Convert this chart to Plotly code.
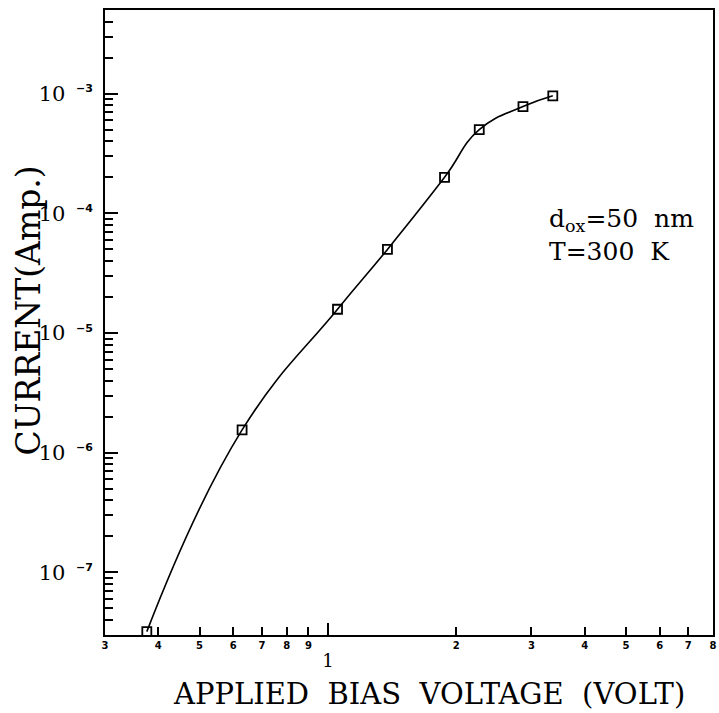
import plotly.graph_objects as go
import math

# ---- data ----
voltage = [0.376, 0.629, 1.053, 1.379, 1.877, 2.264, 2.867, 3.368]
current = [3.2e-8, 1.55e-6, 1.58e-5, 5.0e-5, 2.0e-4, 5.0e-4, 7.8e-4, 9.6e-4]

x_tick_vals = [0.3, 0.4, 0.5, 0.6, 0.7, 0.8, 0.9, 2, 3, 4, 5, 6, 7, 8]
x_tick_text = ["3", "4", "5", "6", "7", "8", "9", "2", "3", "4", "5", "6", "7", "8"]
y_major_exps = [-7, -6, -5, -4, -3]
y_minor_vals = [m * 10.0 ** e for e in range(-8, -2) for m in range(2, 10)
                if 3e-8 <= m * 10.0 ** e <= 5e-3]

x_range = [0.3, 8]
y_range = [3e-8, 5e-3]

SERIF = "DejaVu Serif"

fig = go.Figure()
fig.add_trace(go.Scatter(
    x=voltage, y=current, mode="lines+markers",
    line=dict(color="black", width=1.6, shape="spline", smoothing=1.3),
    marker=dict(symbol="square-open", size=9, color="black", line=dict(width=1.8)),
    showlegend=False, hoverinfo="skip",
))
# invisible trace to attach overlay axis for the long tick at 1
fig.add_trace(go.Scatter(x=[1], y=[1e-6], xaxis="x2", yaxis="y",
                         mode="markers", marker=dict(opacity=0), showlegend=False,
                         hoverinfo="skip"))

y_tick_vals = [10.0 ** e for e in y_major_exps]
y_tick_text = ["10\u2002<sup><span style='font-family:DejaVu Sans;font-size:11px;font-weight:bold'>\u2212%d</span></sup>" % (-e)
               for e in y_major_exps]

fig.update_layout(
    width=719, height=713,
    margin=dict(l=105, r=2, t=10, b=78),
    paper_bgcolor="white", plot_bgcolor="white",
    xaxis=dict(
        type="log", range=[math.log10(x_range[0]), math.log10(x_range[1])],
        tickmode="array", tickvals=x_tick_vals, ticktext=x_tick_text,
        ticks="inside", ticklen=8, tickwidth=1.6, tickcolor="black",
        tickfont=dict(family="DejaVu Sans", size=10, color="black", weight="bold"),
        ticklabelstandoff=0,
        showline=True, linecolor="black", linewidth=2, mirror=True,
        showgrid=False, zeroline=False,
    ),
    xaxis2=dict(
        type="log", range=[math.log10(x_range[0]), math.log10(x_range[1])],
        overlaying="x", side="bottom", anchor="y",
        tickmode="array", tickvals=[1], ticktext=["1"],
        ticks="inside", ticklen=12, tickwidth=1.8, tickcolor="black",
        tickfont=dict(family=SERIF, size=18, color="black"),
        ticklabelstandoff=13,
        showline=False, showgrid=False, zeroline=False,
    ),
    yaxis=dict(
        type="log", range=[math.log10(y_range[0]), math.log10(y_range[1])],
        tickmode="array", tickvals=y_tick_vals, ticktext=y_tick_text,
        ticks="inside", ticklen=13, tickwidth=1.8, tickcolor="black",
        tickfont=dict(family=SERIF, size=21, color="black"),
        ticklabelstandoff=6,
        minor=dict(tickmode="array", tickvals=y_minor_vals, ticks="inside",
                   ticklen=8, tickwidth=1.5, tickcolor="black", showgrid=False),
        showline=True, linecolor="black", linewidth=2, mirror=True,
        showgrid=False, zeroline=False,
    ),
)

fig.add_annotation(
    text="APPLIED\u00a0\u00a0BIAS\u00a0\u00a0VOLTAGE\u00a0\u00a0(VOLT)",
    xref="paper", yref="paper", x=(431 - 105) / 612, y=(635 - 694) / 625,
    xanchor="center", yanchor="middle", showarrow=False,
    font=dict(family=SERIF, size=29, color="black"),
)
fig.add_annotation(
    text="CURRENT(Amp.)", textangle=-90,
    xref="paper", yref="paper", x=(27 - 105) / 612, y=(635 - 311) / 625,
    xanchor="center", yanchor="middle", showarrow=False,
    font=dict(family=SERIF, size=33, color="black"),
)
fig.add_annotation(
    text="d<sub>ox</sub>=50\u00a0\u00a0nm",
    xref="paper", yref="paper", x=(550 - 105) / 612, y=(635 - 220) / 625,
    xanchor="left", yanchor="middle", showarrow=False,
    font=dict(family=SERIF, size=25, color="black"),
)
fig.add_annotation(
    text="T=300\u00a0\u00a0K",
    xref="paper", yref="paper", x=(550 - 105) / 612, y=(635 - 251) / 625,
    xanchor="left", yanchor="middle", showarrow=False,
    font=dict(family=SERIF, size=25, color="black"),
)

fig.write_html("out.html")
